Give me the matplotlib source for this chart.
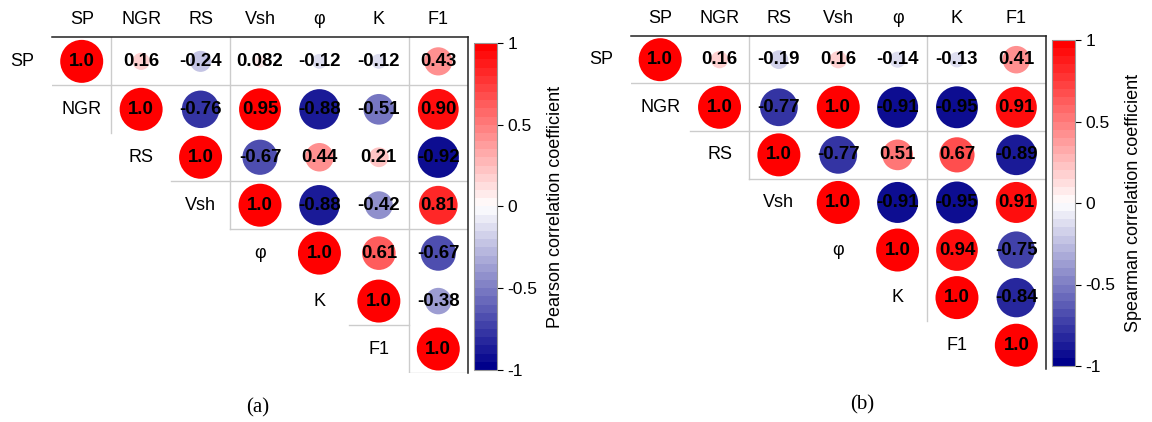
import numpy as np
import matplotlib
matplotlib.use("Agg")
import matplotlib.pyplot as plt
from matplotlib.colors import LinearSegmentedColormap, Normalize
from matplotlib.cm import ScalarMappable

plt.rcParams['font.family'] = ['Liberation Sans', 'DejaVu Sans']
plt.rcParams['axes.unicode_minus'] = False

# variable names
names = ["SP", "NGR", "RS", "Vsh", "φ", "K", "F1"]

# upper triangle, row by row (without diagonal)
pearson_rows = [
    [0.16, -0.24, 0.082, -0.12, -0.12, 0.43],
    [-0.76, 0.95, -0.88, -0.51, 0.90],
    [-0.67, 0.44, 0.21, -0.92],
    [-0.88, -0.42, 0.81],
    [0.61, -0.67],
    [-0.38],
]
spearman_rows = [
    [0.16, -0.19, 0.16, -0.14, -0.13, 0.41],
    [-0.77, 1.0, -0.91, -0.95, 0.91],
    [-0.77, 0.51, 0.67, -0.89],
    [-0.91, -0.95, 0.91],
    [0.94, -0.75],
    [-0.84],
]

# cluster divider lines (cell-boundary index): horizontal (row, col0, col1), vertical (col, row0, row1)
pearson_h = [(1, 0, 7), (3, 2, 7), (4, 3, 7), (6, 5, 6), (7, 6, 7)]
pearson_v = [(1, 0, 2), (3, 0, 4), (6, 0, 7)]
spearman_h = [(1, 0, 7), (2, 1, 7), (3, 2, 7)]
spearman_v = [(2, 0, 3), (5, 0, 6)]

cmap = LinearSegmentedColormap.from_list("bwr_o", ["#00008B", "white", "#FF0000"], N=40)
norm = Normalize(-1, 1)


def to_matrix(rows):
    n = len(names)
    m = np.eye(n)
    for i, r in enumerate(rows):
        for k, v in enumerate(r):
            m[i, i + 1 + k] = v
    return m


def fmt(v):
    if round(abs(v), 2) >= 1:
        return "1.0"
    if abs(v) >= 0.1:
        return "%.2f" % v
    return "%.2g" % v


def corr_panel(ax, rows, hlines, vlines):
    m = to_matrix(rows)
    n = len(names)
    ii, jj = np.triu_indices(n)
    vals = m[ii, jj]
    ax.scatter(jj, ii, s=958 * np.abs(vals), c=vals, cmap=cmap, norm=norm,
               edgecolors="none", zorder=3)
    for i, j, v in zip(ii, jj, vals):
        ax.text(j, i, fmt(v), ha="center", va="center", fontsize=13.4,
                fontweight="bold", color="black", zorder=4)
    for i in range(1, n):
        ax.text(i - 1, i, names[i], ha="center", va="center", fontsize=13)
    ax.text(-1, 0, names[0], ha="center", va="center", fontsize=13)
    for r, c0, c1 in hlines:
        ax.plot([c0 - 0.5, c1 - 0.5], [r - 0.5, r - 0.5], color="#cccccc", lw=1.0, zorder=1)
    for c, r0, r1 in vlines:
        ax.plot([c - 0.5, c - 0.5], [r0 - 0.5, r1 - 0.5], color="#cccccc", lw=1.0, zorder=1)
    ax.set_xlim(-0.5, n - 0.5)
    ax.set_ylim(n - 0.5, -0.5)
    ax.xaxis.tick_top()
    ax.set_xticks(range(n))
    ax.set_xticklabels(names, fontsize=13)
    ax.tick_params(axis="x", length=0, pad=6.5)
    ax.set_yticks([])
    ax.spines["left"].set_visible(False)
    ax.spines["bottom"].set_visible(False)
    for s in ["top", "right"]:
        ax.spines[s].set_color("#222222")
        ax.spines[s].set_linewidth(1.1)


def add_cbar(fig, rect, label):
    cax = fig.add_axes(rect)
    cb = fig.colorbar(ScalarMappable(norm=norm, cmap=cmap), cax=cax)
    cb.set_ticks([-1, -0.5, 0, 0.5, 1])
    cb.set_ticklabels(["-1", "-0.5", "0", "0.5", "1"])
    cb.ax.tick_params(labelsize=12.5, length=4, width=0.8)
    cb.outline.set_edgecolor("#999999")
    cb.outline.set_linewidth(0.8)
    cb.set_label(label, fontsize=13, labelpad=7)


fig = plt.figure(figsize=(11.52, 4.22), dpi=100)

ax1 = fig.add_axes([52 / 1152, 1 - 373 / 422, 416 / 1152, 335.6 / 422])
corr_panel(ax1, pearson_rows, pearson_h, pearson_v)
add_cbar(fig, [474 / 1152, 1 - 370 / 422, 23 / 1152, 327 / 422], "Pearson correlation coefficient")

ax2 = fig.add_axes([630.5 / 1152, 1 - 369 / 422, 415.5 / 1152, 333.1 / 422])
corr_panel(ax2, spearman_rows, spearman_h, spearman_v)
add_cbar(fig, [1052 / 1152, 1 - 366 / 422, 23 / 1152, 326 / 422], "Spearman correlation coefficient")

fig.text(258 / 1152, 1 - 408 / 422, "(a)", ha="center", va="center", fontsize=15,
         family=["Liberation Serif", "DejaVu Serif"])
fig.text(862 / 1152, 1 - 405 / 422, "(b)", ha="center", va="center", fontsize=15,
         family=["Liberation Serif", "DejaVu Serif"])

fig.savefig("out.png", dpi=100)
